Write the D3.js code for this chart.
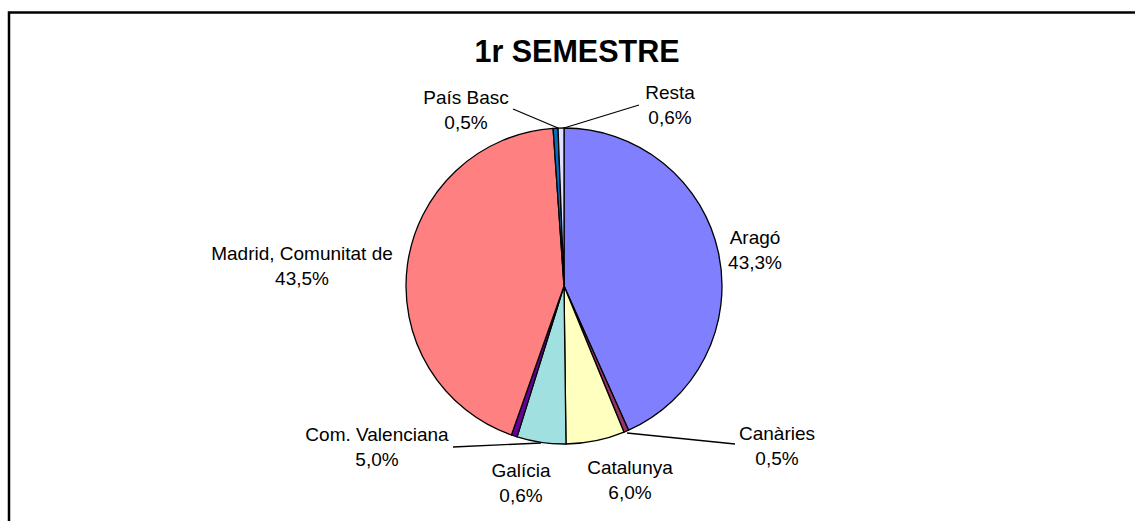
<!DOCTYPE html>
<html>
<head>
<meta charset="utf-8">
<script src="https://cdn.jsdelivr.net/npm/d3@7"></script>
<style>
  html, body { margin: 0; padding: 0; background: #fff; }
  svg { display: block; }
  text { font-family: "Liberation Sans", Arial, sans-serif; fill: #000; }
</style>
</head>
<body>
<svg id="chart" width="1135" height="521"></svg>
<script>
// ---- data ----
const title = "1r SEMESTRE";
const categories = ["Aragó", "Canàries", "Catalunya", "Com. Valenciana", "Galícia", "Madrid, Comunitat de", "País Basc", "Resta"];
const values = [43.3, 0.5, 6.0, 5.0, 0.6, 43.5, 0.5, 0.6];
const valueLabels = ["43,3%", "0,5%", "6,0%", "5,0%", "0,6%", "43,5%", "0,5%", "0,6%"];
const colors = ["#8080FF", "#993366", "#FFFFC0", "#A0E0E0", "#660099", "#FF8080", "#0070C0", "#E0E0FF"];

// ---- layout (label positions: centre x, first baseline y; optional leader points) ----
const labelLayout = [
  { x: 755, y: 244 },
  { x: 777, y: 440, leader: [[735, 444], [627, 433]] },
  { x: 630, y: 474 },
  { x: 377, y: 441, leader: [[453, 447], [541, 443]] },
  { x: 521, y: 477 },
  { x: 302, y: 260 },
  { x: 466, y: 104, leader: [[513, 109], [558, 128]] },
  { x: 670, y: 99, leader: [[639, 105], [564, 128]] }
];

const svg = d3.select("#chart");

// frame
svg.append("rect")
  .attr("x", 9).attr("y", 12.5)
  .attr("width", 1300).attr("height", 700)
  .attr("fill", "none").attr("stroke", "#000").attr("stroke-width", 2.5);

// title
svg.append("text")
  .attr("x", 577).attr("y", 62)
  .attr("text-anchor", "middle")
  .style("font-size", "30.5px").style("font-weight", "bold")
  .text(title);

const cx = 564, cy = 286, r = 158;
const pie = d3.pie().sort(null).value(d => d)(values);
const arc = d3.arc().innerRadius(0).outerRadius(r);

const g = svg.append("g").attr("transform", `translate(${cx},${cy})`);
g.selectAll("path")
  .data(pie)
  .join("path")
  .attr("d", arc)
  .attr("fill", (d, i) => colors[i])
  .attr("stroke", "#000")
  .attr("stroke-width", 1.3)
  .attr("stroke-linejoin", "round");

// leader lines
labelLayout.forEach(l => {
  if (l.leader) {
    svg.append("path")
      .attr("d", d3.line()(l.leader))
      .attr("fill", "none").attr("stroke", "#000").attr("stroke-width", 1.3);
  }
});

// labels
categories.forEach((c, i) => {
  const l = labelLayout[i];
  const t = svg.append("text")
    .attr("text-anchor", "middle")
    .style("font-size", "19px");
  t.append("tspan").attr("x", l.x).attr("y", l.y).text(c);
  t.append("tspan").attr("x", l.x).attr("y", l.y + 24.5).text(valueLabels[i]);
});
</script>
</body>
</html>
